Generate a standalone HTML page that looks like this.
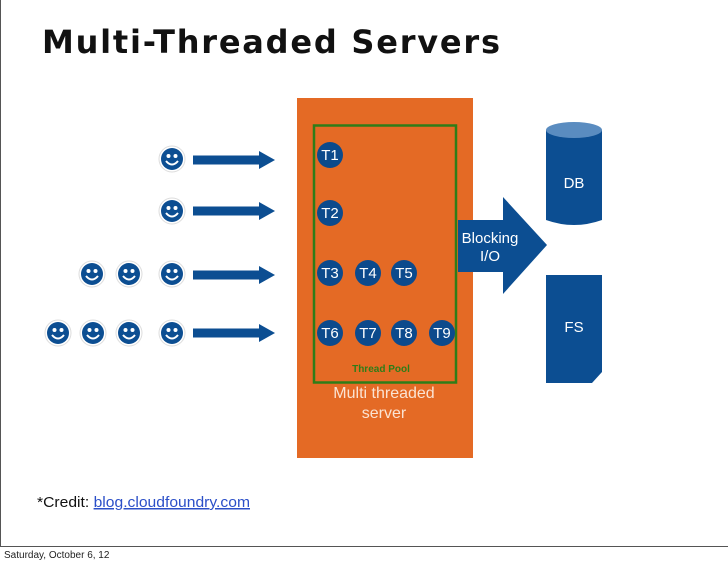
<!DOCTYPE html>
<html><head><style>
body{margin:0;background:#fff}
svg text{font-family:"Liberation Sans",sans-serif}
</style></head><body>
<svg width="728" height="561" viewBox="0 0 728 561" xmlns="http://www.w3.org/2000/svg">
<defs>
<g id="sm"><circle r="13" fill="#fff" stroke="#ddd" stroke-width="1"/><circle r="11" fill="#0c4e92"/><circle cx="-3.5" cy="-3" r="2" fill="#fff"/><circle cx="3.5" cy="-3" r="2" fill="#fff"/><path d="M-6,2 Q0,9 6,2" stroke="#fff" stroke-width="2" fill="none"/></g>
<g id="ar"><rect x="0" y="-4.5" width="68" height="9" fill="#0c4e92"/><path d="M66,-9 L82,0 L66,9Z" fill="#0c4e92"/></g>
</defs>
<text x="42" y="53" font-size="32" font-weight="bold" fill="#111" textLength="458" lengthAdjust="spacing" style="font-family:'DejaVu Sans',sans-serif">Multi-Threaded Servers</text>
<rect x="297" y="98" width="176" height="360" fill="#e46a25"/>
<rect x="314" y="125.5" width="142" height="257" fill="none" stroke="#2e7d18" stroke-width="2.5"/>
<g font-size="15" fill="#fff" text-anchor="middle">
<g><circle cx="330" cy="155" r="13" fill="#0c4a8c"/><text x="330" y="160">T1</text></g>
<g><circle cx="330" cy="213" r="13" fill="#0c4a8c"/><text x="330" y="218">T2</text></g>
<g><circle cx="330" cy="273" r="13" fill="#0c4a8c"/><text x="330" y="278">T3</text></g>
<g><circle cx="368" cy="273" r="13" fill="#0c4a8c"/><text x="368" y="278">T4</text></g>
<g><circle cx="404" cy="273" r="13" fill="#0c4a8c"/><text x="404" y="278">T5</text></g>
<g><circle cx="330" cy="333" r="13" fill="#0c4a8c"/><text x="330" y="338">T6</text></g>
<g><circle cx="368" cy="333" r="13" fill="#0c4a8c"/><text x="368" y="338">T7</text></g>
<g><circle cx="404" cy="333" r="13" fill="#0c4a8c"/><text x="404" y="338">T8</text></g>
<g><circle cx="442" cy="333" r="13" fill="#0c4a8c"/><text x="442" y="338">T9</text></g>
</g>
<text x="381" y="372" font-size="10" font-weight="bold" fill="#2e7d18" text-anchor="middle">Thread Pool</text>
<text x="384" y="398" font-size="16" fill="#fbe3d2" text-anchor="middle">Multi threaded</text>
<text x="384" y="418" font-size="16" fill="#fbe3d2" text-anchor="middle">server</text>
<path d="M458,220 L503,220 L503,197 L547,245 L503,294 L503,272 L458,272Z" fill="#0c4e92"/>
<text x="490" y="243" font-size="15" fill="#fff" text-anchor="middle">Blocking</text>
<text x="490" y="261" font-size="15" fill="#fff" text-anchor="middle">I/O</text>
<path d="M546,130 L546,220 Q574,230 602,220 L602,130Z" fill="#0c4e92"/>
<ellipse cx="574" cy="130" rx="28" ry="8" fill="#5a8cc0"/>
<text x="574" y="188" font-size="15" fill="#fff" text-anchor="middle">DB</text>
<path d="M546,275 L602,275 L602,372 L592,383 L546,383Z" fill="#0c4e92"/>
<text x="574" y="332" font-size="15" fill="#fff" text-anchor="middle">FS</text>
<use href="#sm" x="172" y="159"/><use href="#ar" x="193" y="160"/>
<use href="#sm" x="172" y="211"/><use href="#ar" x="193" y="211"/>
<use href="#sm" x="92" y="274"/><use href="#sm" x="129" y="274"/><use href="#sm" x="172" y="274"/><use href="#ar" x="193" y="275"/>
<use href="#sm" x="58" y="333"/><use href="#sm" x="93" y="333"/><use href="#sm" x="129" y="333"/><use href="#sm" x="172" y="333"/><use href="#ar" x="193" y="333"/>
<text x="37" y="507" font-size="15" fill="#111" textLength="213" lengthAdjust="spacingAndGlyphs">*Credit: <tspan fill="#2b4fc8" text-decoration="underline">blog.cloudfoundry.com</tspan></text>
<line x1="0.5" y1="0" x2="0.5" y2="546" stroke="#555"/>
<line x1="0" y1="546.5" x2="728" y2="546.5" stroke="#555"/>
<text x="4" y="558" font-size="10" fill="#222">Saturday, October 6, 12</text>
</svg>
</body></html>
